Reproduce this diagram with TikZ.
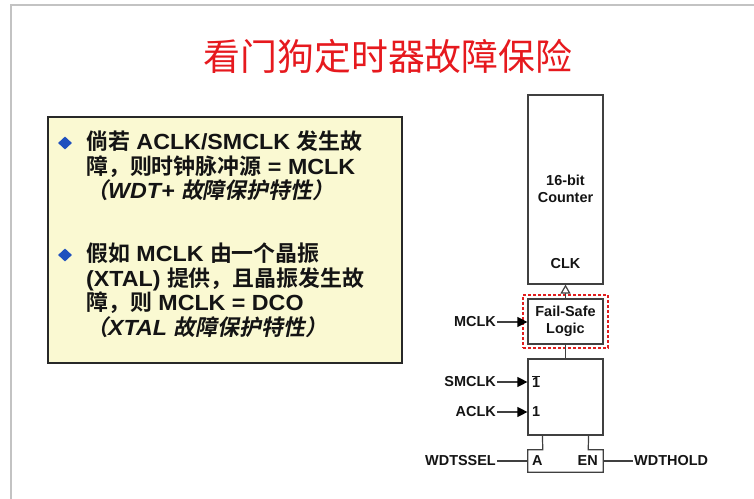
\documentclass[tikz,border=0pt]{standalone}
\usepackage{fontspec}
\setmainfont{Liberation Sans}
\newfontfamily\cjk{Noto Sans CJK SC}
\newfontfamily\cjkb{Noto Sans CJK SC Bold}
\newfontfamily\cjkbi{Noto Sans CJK SC Bold}[FakeSlant=0.2]
\newfontfamily\latb{Liberation Sans Bold}[FakeStretch=1.06]
\newfontfamily\latbi{Liberation Sans Bold Italic}[FakeStretch=1.06]
\newfontfamily\diag{Liberation Sans Bold}
\usetikzlibrary{arrows.meta,shapes.geometric}
\newcommand\zh[1]{{\cjkb #1}}
\newcommand\zhi[1]{{\cjkbi #1}}
\definecolor{linec}{RGB}{64,64,64}
\definecolor{txt}{RGB}{20,20,20}
\definecolor{yel}{RGB}{250,249,210}
\definecolor{boxc}{RGB}{40,40,40}
\definecolor{bulc}{RGB}{30,80,190}
\definecolor{titlec}{RGB}{230,25,30}
\definecolor{redc}{RGB}{225,30,30}
\definecolor{framec}{RGB}{195,195,195}
\begin{document}
\begin{tikzpicture}[x=1bp,y=-1bp,
  wire/.style={draw=linec, line width=1.2bp},
  blk/.style={draw=linec, line width=1.2bp, minimum width=75bp, inner sep=0pt},
  lbl/.style={font=\diag\fontsize{14.5}{17}\selectfont, text=txt, inner sep=0pt},
  bul/.style={shape=diamond, fill=bulc, minimum width=14bp, minimum height=13bp, inner sep=0pt},
  ln/.style={anchor=base west, inner sep=0pt, font=\latb\fontsize{22}{24}\selectfont, text=txt},
  fillarrow/.style={-{Triangle[length=10bp,width=10bp,color=black]}},
  openarrow/.style={-{Triangle[open,length=9bp,width=10bp,fill=white]}}]
\useasboundingbox (0,0) rectangle (754,499);
\draw[framec, line width=2.5bp] (11,499) -- (11,5) -- (754,5);

% title
\node[text=titlec, font=\cjk\fontsize{37}{40}\selectfont, inner sep=0pt] (title) at (388,56) {看门狗定时器故障保险};

% left panel
\node[draw=boxc, fill=yel, line width=1.5bp, minimum width=354bp, minimum height=246bp, inner sep=0pt] (panel) at (225,240) {};
\node[bul] (d1) at (65,143) {};
\node[bul] (d2) at (65,255) {};
\node[ln] (a1) at (86,150) {\zh{倘若} ACLK/SMCLK \zh{发生故}};
\node[ln] (a2) at (86,174.5) {\zh{障，则时钟脉冲源} = MCLK};
\node[ln] (a3) at (86,199) {\zhi{（}{\latbi WDT+} \zhi{故障保护特性）}};
\node[ln] (b1) at (86,262) {\zh{假如} MCLK \zh{由一个晶振}};
\node[ln] (b2) at (86,286.5) {(XTAL) \zh{提供，且晶振发生故}};
\node[ln] (b3) at (86,310.5) {\zh{障，则} MCLK = DCO};
\node[ln] (b4) at (86,335) {\zhi{（}{\latbi XTAL} \zhi{故障保护特性）}};

% diagram
\node[blk, minimum height=189bp] (counter) at (565.5,189.5) {};
\node[lbl, align=center] (cnttxt) at (565.5,188.5) {16-bit\\Counter};
\node[lbl] (clk) at (565.5,264) {CLK};
\node[blk, lbl, minimum height=45bp, align=center] (fs) at (565.5,321.5) {Fail-Safe\\Logic};
\node[draw=redc, dash pattern=on 3bp off 2bp, line width=1.6bp, minimum width=85bp, minimum height=53bp, inner sep=0pt] (fsframe) at (565.5,321.5) {};
\node[blk, minimum height=76bp] (mux) at (565.5,397) {};
\node[lbl, anchor=west] (in1b) at (532,382) {$\overline{\mbox{1}}$};
\node[lbl, anchor=west] (in1) at (532,412) {1};
\node[minimum width=75bp, minimum height=22bp, inner sep=0pt] (sel) at (565.5,461) {};
\node[lbl, anchor=west] (selA) at (532,461) {A};
\node[lbl, anchor=east] (selEN) at (598,461) {EN};

\draw[wire] ([xshift=15bp]mux.south west) -- ([xshift=15bp]sel.north west) -- (sel.north west)
  -- (sel.south west) -- (sel.south east) -- (sel.north east)
  -- ([xshift=-15bp]sel.north east) -- ([xshift=-15bp]mux.south east);

\draw[wire, openarrow] (fs.north) -- (counter.south);
\draw[wire] (fs.south) -- (mux.north);

\node[lbl, anchor=east] (mclk) at (496,322) {MCLK};
\node[lbl, anchor=east] (smclk) at (496,382) {SMCLK};
\node[lbl, anchor=east] (aclk) at (496,412) {ACLK};
\node[lbl, anchor=east] (wdtssel) at (496,461) {WDTSSEL};
\node[lbl, anchor=west] (wdthold) at (634,461) {WDTHOLD};

\draw[wire, fillarrow] ([xshift=1bp]mclk.east) -- (mclk.east -| fs.west);
\draw[wire, fillarrow] ([xshift=1bp]smclk.east) -- (smclk.east -| mux.west);
\draw[wire, fillarrow] ([xshift=1bp]aclk.east) -- (aclk.east -| mux.west);
\draw[wire] ([xshift=1bp]wdtssel.east) -- (wdtssel.east -| sel.west);
\draw[wire] (wdthold.west -| sel.east) -- ([xshift=-1bp]wdthold.west);
\end{tikzpicture}
\end{document}
